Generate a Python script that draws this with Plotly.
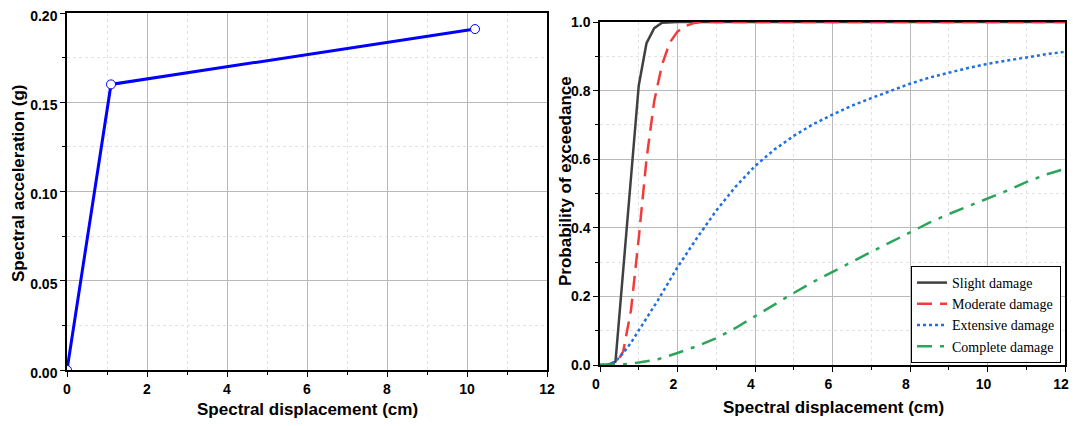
import plotly.graph_objects as go

# ---- Left panel: capacity curve ----
cap_x = [0.0, 1.1, 10.2]
cap_y = [0.0, 0.160, 0.191]

# ---- Right panel: fragility curves ----
slight_x = [0, 0.2, 0.4, 0.6, 0.8, 1.0, 1.2, 1.4, 1.6, 1.8, 2.0, 4, 6, 8, 10, 12]
slight_y = [0, 0.0, 0.01, 0.27, 0.54, 0.815, 0.938, 0.982, 0.998, 1.0, 1.0, 1, 1, 1, 1, 1]

moderate_x = [0, 0.2, 0.4, 0.6, 0.8, 1.0, 1.2, 1.4, 1.6, 1.8, 2.0, 2.2, 2.4, 2.6, 4, 6, 8, 10, 12]
moderate_y = [0, 0.0, 0.002, 0.04, 0.16, 0.37, 0.60, 0.77, 0.875, 0.94, 0.972, 0.988, 0.996, 1.0, 1, 1, 1, 1, 1]

extensive_x = [0, 0.2, 0.4, 0.6, 0.8, 1.0, 1.2, 1.5, 2.0, 2.5, 3.0, 3.5, 4.0, 4.5, 5.0, 5.5, 6.0,
               6.5, 7.0, 7.5, 8.0, 8.5, 9.0, 9.5, 10.0, 10.5, 11.0, 11.5, 12.0]
extensive_y = [0, 0.0, 0.01, 0.035, 0.065, 0.10, 0.135, 0.19, 0.285, 0.37, 0.45, 0.52, 0.58, 0.628,
               0.668, 0.702, 0.730, 0.756, 0.778, 0.80, 0.82, 0.838, 0.853, 0.866, 0.878, 0.888,
               0.898, 0.906, 0.913]

complete_x = [0, 0.5, 1.0, 1.5, 2.0, 2.5, 3.0, 3.5, 4.0, 4.5, 5.0, 5.5, 6.0, 6.5, 7.0, 7.5, 8.0,
              8.5, 9.0, 9.5, 10.0, 10.5, 11.0, 11.5, 12.0]
complete_y = [0, 0.0, 0.007, 0.017, 0.035, 0.055, 0.078, 0.108, 0.142, 0.177, 0.21, 0.242, 0.272,
              0.30, 0.33, 0.358, 0.387, 0.415, 0.44, 0.462, 0.484, 0.508, 0.533, 0.555, 0.572]

series_names = ["Slight damage", "Moderate damage", "Extensive damage", "Complete damage"]

fig = go.Figure()

fig.add_trace(go.Scatter(
    x=cap_x, y=cap_y, mode="lines+markers", showlegend=False,
    line=dict(color="#0000ff", width=3),
    marker=dict(symbol="circle", size=9, color="white", line=dict(color="#0000ff", width=1)),
    xaxis="x", yaxis="y",
))

styles = [
    dict(color="#404040", width=2.5, dash="solid"),
    dict(color="#f03c3c", width=2.5, dash="15px,8px"),
    dict(color="#1f6fe0", width=2.5, dash="dot"),
    dict(color="#2ca55a", width=2.5, dash="15px,8px,4px,8px"),
]
for name, xs, ys, st in zip(series_names,
                             [slight_x, moderate_x, extensive_x, complete_x],
                             [slight_y, moderate_y, extensive_y, complete_y], styles):
    fig.add_trace(go.Scatter(x=xs, y=ys, mode="lines", name=name, line=st,
                             xaxis="x2", yaxis="y2"))

tickfont = dict(family="Liberation Sans, Arial", size=14, color="black", weight="bold")

def xaxis_cfg(domain, anchor, shift=0):
    return dict(
        domain=domain, anchor=anchor, range=[0, 12], dtick=2, tick0=0, automargin=False,
        ticklabeloverflow="allow", ticklabelshift=shift,
        showline=True, linecolor="black", linewidth=1.5, mirror=True,
        ticks="outside", ticklen=5, tickwidth=1.2, tickcolor="black",
        tickfont=tickfont, showgrid=True, gridcolor="#b9b9b9", gridwidth=1,
        zeroline=False,
        minor=dict(dtick=1, ticks="outside", ticklen=3, tickcolor="black",
                   showgrid=True, gridcolor="#e2e2e2", griddash="dot", gridwidth=1),
    )

def yaxis_cfg(domain, anchor, rng, dt, fmt, shift=0):
    return dict(
        domain=domain, anchor=anchor, range=rng, dtick=dt, tick0=0, tickformat=fmt,
        automargin=False, ticklabeloverflow="allow", ticklabelshift=shift,
        showline=True, linecolor="black", linewidth=1.5, mirror=True,
        ticks="outside", ticklen=5, tickwidth=1.2, tickcolor="black",
        tickfont=tickfont, showgrid=True, gridcolor="#b9b9b9", gridwidth=1,
        zeroline=False,
        minor=dict(dtick=dt / 2, ticks="outside", ticklen=3, tickcolor="black",
                   showgrid=True, gridcolor="#e2e2e2", griddash="dot", gridwidth=1),
    )

# page body has an 8px margin: px targets are offset by 8
OFF = 8
W, H = 1078 - OFF, 426 - 2 * OFF

def fx(p):
    return (p - OFF) / W

def fy(p):
    return 1 - (p - OFF) / H

fig.update_layout(
    width=W, height=H, autosize=False,
    margin=dict(l=0, r=0, t=0, b=0, pad=0, autoexpand=False),
    paper_bgcolor="white", plot_bgcolor="white",
    xaxis=xaxis_cfg([fx(67), fx(547)], "y"),
    yaxis=yaxis_cfg([fy(370), fy(13)], "x", [0, 0.2], 0.05, ".2f", shift=3),
    xaxis2=xaxis_cfg([fx(600), fx(1065)], "y2", shift=-4),
    yaxis2=yaxis_cfg([fy(365), fy(22)], "x2", [0, 1.0], 0.2, ".1f"),
    legend=dict(
        x=fx(1061), y=fy(363), xanchor="right", yanchor="bottom",
        bgcolor="white", bordercolor="black", borderwidth=1,
        font=dict(family="Liberation Serif, Times New Roman", size=14, color="black"),
        tracegroupgap=0, itemwidth=30,
    ),
    showlegend=True,
)

title_font = dict(family="Liberation Sans, Arial", size=17, color="black", weight="bold")
ann = dict(xref="paper", yref="paper", showarrow=False, xanchor="center", yanchor="middle",
           font=title_font)
fig.add_annotation(text="Spectral displacement (cm)", x=fx(307), y=fy(409), **ann)
fig.add_annotation(text="Spectral displacement (cm)", x=fx(833), y=fy(407), **ann)
fig.add_annotation(text="Spectral acceleration (g)", x=fx(19), y=fy(184), textangle=-90, **ann)
fig.add_annotation(text="Probability of exceedance", x=fx(566), y=fy(181), textangle=-90, **ann)

fig.write_html("out.html")
